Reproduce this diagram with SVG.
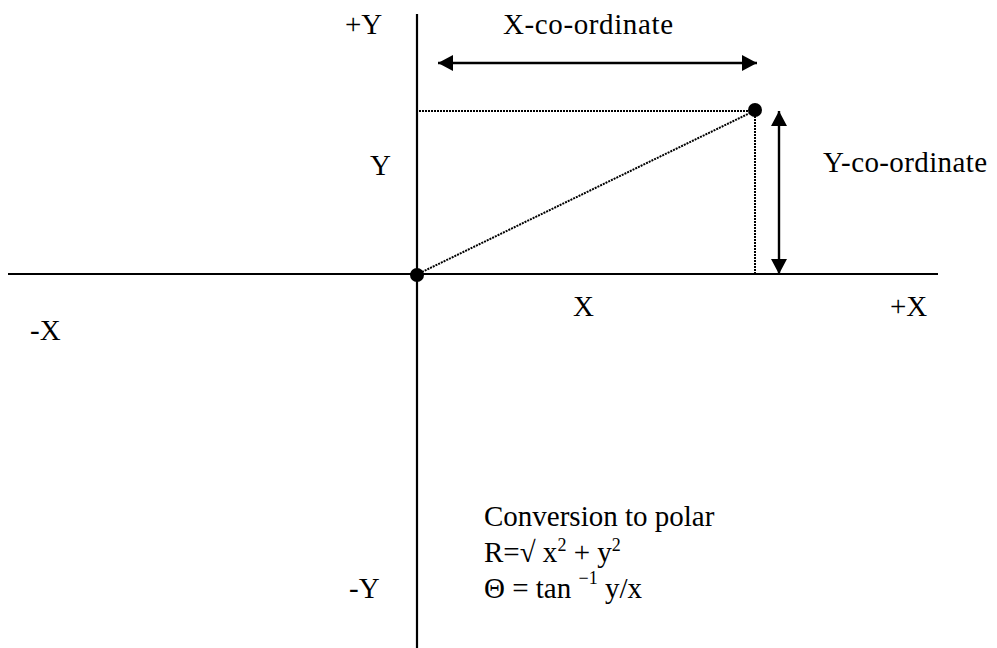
<svg xmlns="http://www.w3.org/2000/svg" width="997" height="648" viewBox="0 0 997 648">
<style>
text{font-family:"Liberation Serif","Times New Roman",serif;font-size:29px;fill:#000}
.axis{stroke:#000;stroke-width:2.2;fill:none}
.dot{stroke:#000;stroke-width:2;stroke-dasharray:2 1;fill:none}
.arr{stroke:#000;stroke-width:2.4;fill:none}
.sup{font-size:18px}
</style>
<defs>
<marker id="ah" viewBox="0 0 15 16" refX="15" refY="8" markerWidth="15" markerHeight="16" markerUnits="userSpaceOnUse" orient="auto-start-reverse">
<path d="M0,0 L15,8 L0,16 Z" fill="#000"/>
</marker>
</defs>
<g id="axes">
<line class="axis" x1="417" y1="14" x2="417" y2="648"/>
<line class="axis" x1="8" y1="274" x2="938" y2="274"/>
</g>
<g id="connectors">
<line class="dot" x1="419" y1="111" x2="750" y2="111"/>
<line class="dot" x1="755" y1="116" x2="755" y2="273"/>
<line class="dot" x1="422" y1="272" x2="750" y2="113"/>
<line class="arr" x1="438" y1="63" x2="757" y2="63" marker-start="url(#ah)" marker-end="url(#ah)"/>
<line class="arr" x1="779" y1="111" x2="779" y2="274" marker-start="url(#ah)" marker-end="url(#ah)"/>
</g>
<g id="origin"><circle cx="417" cy="275" r="7" fill="#000"/></g>
<g id="point"><circle cx="755" cy="110" r="7" fill="#000"/></g>
<g id="labels">
<text x="345" y="34">+Y</text>
<text x="503" y="34" textLength="170" lengthAdjust="spacing">X-co-ordinate</text>
<text x="370" y="175">Y</text>
<text x="823" y="172" textLength="164" lengthAdjust="spacing">Y-co-ordinate</text>
<text x="573" y="316">X</text>
<text x="890" y="316">+X</text>
<text x="30" y="340">-X</text>
<text x="349" y="598">-Y</text>
</g>
<g id="formula">
<text x="484" y="526">Conversion to polar</text>
<text x="484" y="562">R=√ x<tspan class="sup" dy="-11">2</tspan><tspan dy="11"> + y</tspan><tspan class="sup" dy="-11">2</tspan></text>
<text x="484" y="598">Θ = tan <tspan class="sup" dy="-14">−1</tspan><tspan dy="14"> y/x</tspan></text>
</g>
</svg>
